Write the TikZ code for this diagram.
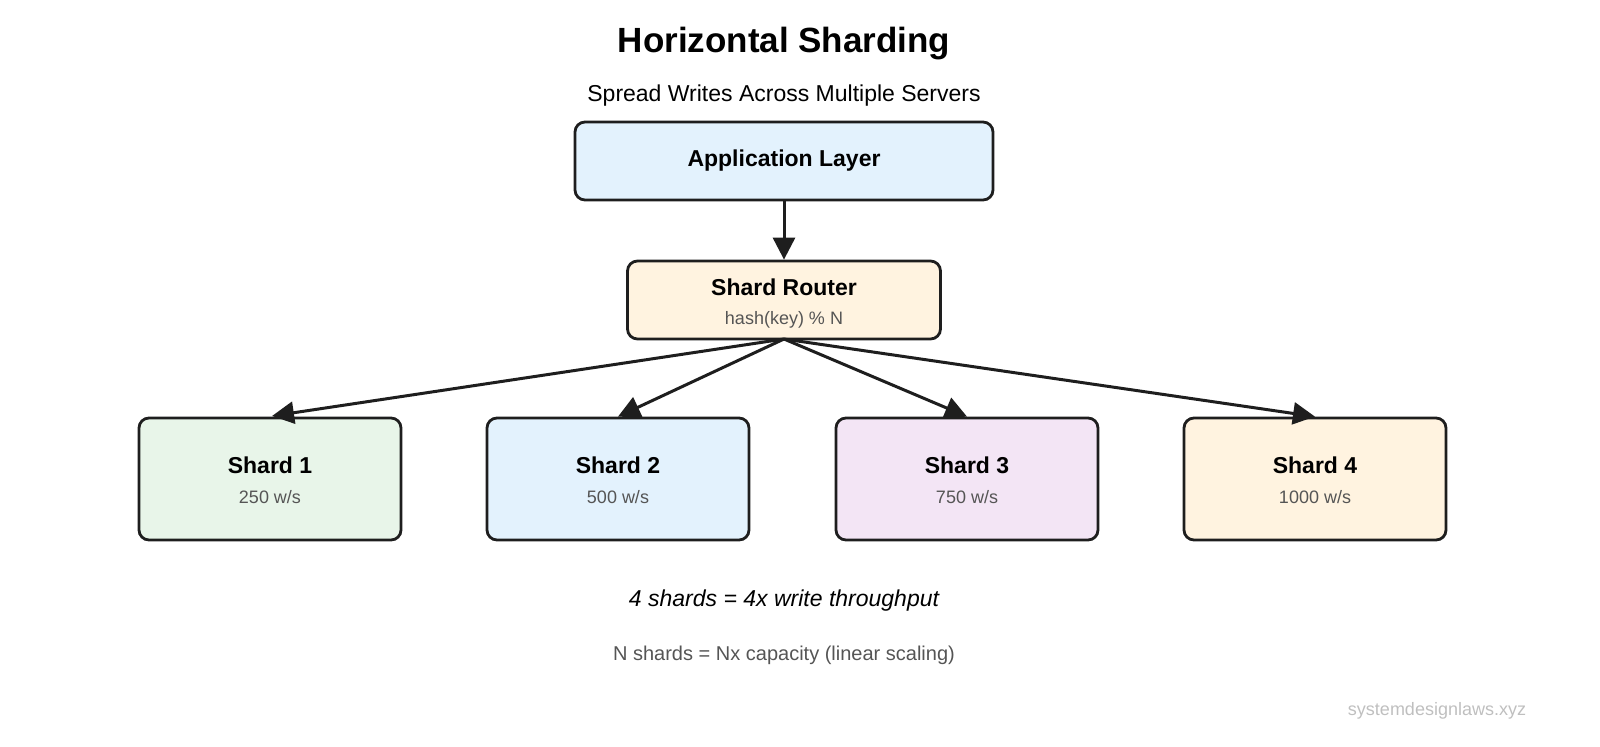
\documentclass[tikz,border=0pt]{standalone}
\usepackage{fontspec}
\setmainfont{Liberation Sans}
\usetikzlibrary{arrows.meta}
\definecolor{bd}{HTML}{1E1E1E}
\definecolor{cblue}{HTML}{E3F2FD}
\definecolor{corange}{HTML}{FFF3E0}
\definecolor{cgreen}{HTML}{E8F5E9}
\definecolor{cpurple}{HTML}{F3E5F5}
\definecolor{sub}{HTML}{555555}
\tikzset{
  box/.style={draw=bd, line width=1.4pt, rounded corners=5pt, inner sep=0pt},
  arr/.style={draw=bd, line width=1.5pt, -{Triangle[length=11pt,width=11pt]}},
}
\begin{document}
\begin{tikzpicture}[x=0.5pt,y=-0.5pt]
\useasboundingbox (0,0) rectangle (1600,746);
\node (title) at (784,44) {\fontsize{17.5}{21}\selectfont\bfseries Horizontal Sharding};
\node (subt) at (784,96) {\fontsize{11.5}{14}\selectfont Spread Writes Across Multiple Servers};
\node[box, fill=cblue, minimum width=209pt, minimum height=39pt] (app) at (784,161) {};
\node at (app) {\fontsize{11.5}{14}\selectfont\bfseries Application Layer};
\node[box, fill=corange, minimum width=156.5pt, minimum height=39pt] (router) at (784,300) {};
\node at (784,287) {\fontsize{11.5}{14}\selectfont\bfseries Shard Router};
\node at (784,320) {\fontsize{9}{11}\selectfont\color{sub} hash(key) \% N};
\foreach \i/\x/\c/\w in {1/270/cgreen/250, 2/618/cblue/500, 3/967/cpurple/750, 4/1315/corange/1000}{
  \node[box, fill=\c, minimum width=131pt, minimum height=61pt] (s\i) at (\x,479) {};
  \node at (\x,465) {\fontsize{11.5}{14}\selectfont\bfseries Shard \i};
  \node at (\x,497) {\fontsize{9}{11}\selectfont\color{sub} \w\ w/s};
}
\draw[arr] (app.south) -- (router.north);
\coordinate (rb) at (784,339);
\draw[arr] (rb) -- (272,416);
\draw[arr] (rb) -- (s2.north);
\draw[arr] (rb) -- (s3.north);
\draw[arr] (rb) -- (s4.north);
\node (n1) at (784,601) {\fontsize{11.5}{14}\selectfont\itshape 4 shards = 4x write throughput};
\node (n2) at (784,655) {\fontsize{10}{12}\selectfont\color{sub} N shards = Nx capacity (linear scaling)};
\node (wm) at (1437,711) {\fontsize{9}{11}\selectfont\color{black!25} systemdesignlaws.xyz};
\end{tikzpicture}
\end{document}
